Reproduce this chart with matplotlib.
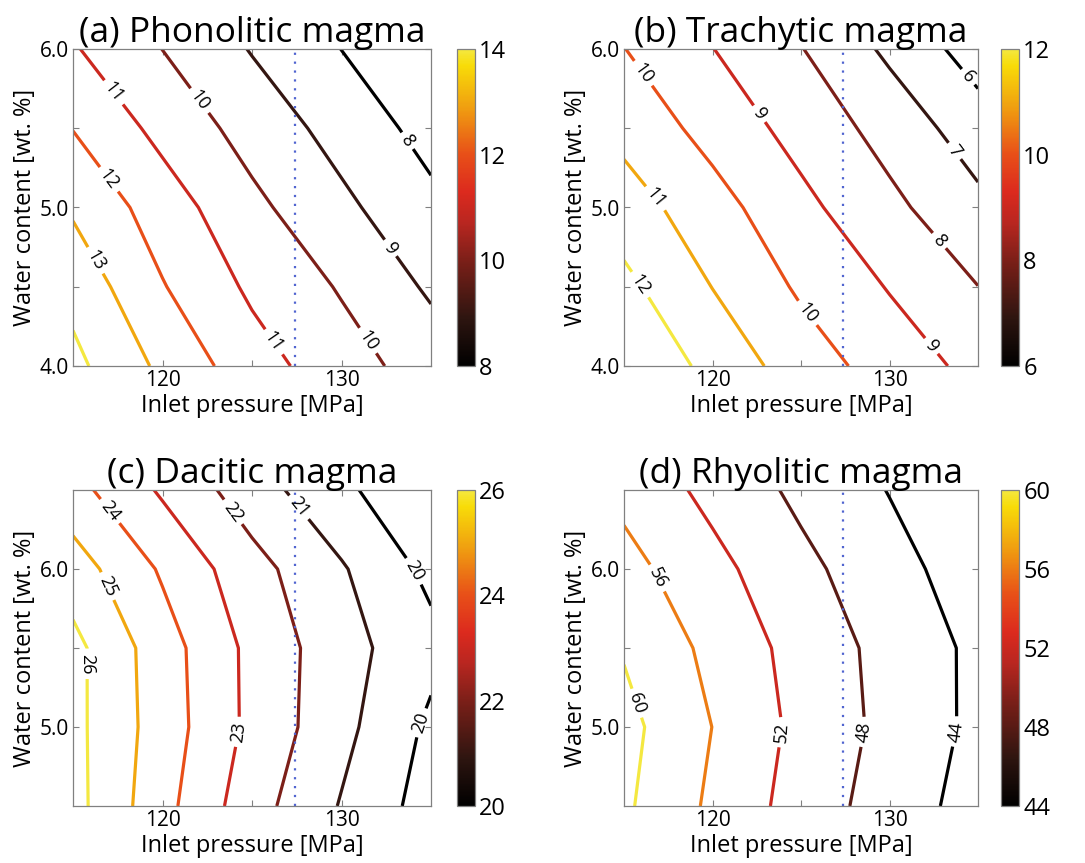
import numpy as np
import matplotlib
matplotlib.use('Agg')
import matplotlib.pyplot as plt
from matplotlib.colors import LinearSegmentedColormap, Normalize
from matplotlib.cm import ScalarMappable

plt.rcParams['font.family'] = ['Open Sans', 'DejaVu Sans']

# grid of the simulations
pressure = [115, 120, 125, 130, 135]          # inlet pressure [MPa]
water_ab = [4.0, 4.5, 5.0, 5.5, 6.0]          # water content [wt. %], panels a,b
water_cd = [4.5, 5.0, 5.5, 6.0, 6.5]          # water content [wt. %], panels c,d
ref_pressure = 127.4                          # dotted line

# rows = water content, columns = inlet pressure
phonolitic = [[14.26, 12.79, 11.43, 10.43, 9.54],
              [13.68, 12.06, 10.82, 9.91, 8.85],
              [12.86, 11.51, 10.24, 9.22, 8.24],
              [11.97, 10.70, 9.61, 8.63, 7.65],
              [11.09, 9.99, 8.94, 7.99, 7.06]]

trachytic = [[12.99, 11.69, 10.51, 9.56, 8.71],
             [12.26, 10.98, 9.85, 8.94, 8.01],
             [11.48, 10.39, 9.26, 8.24, 7.25],
             [10.69, 9.65, 8.64, 7.63, 6.47],
             [10.02, 9.02, 8.04, 6.80, 5.53]]

dacitic = [[26.34, 24.33, 22.41, 20.93, 19.56],
           [26.28, 24.52, 22.75, 21.29, 19.80],
           [26.29, 24.45, 22.74, 21.375, 20.30],
           [25.48, 23.87, 22.36, 21.10, 19.74],
           [24.34, 22.86, 21.45, 20.23, 19.06]]

rhyolitic = [[60.65, 55.26, 50.28, 46.15, 42.41],
             [61.23, 55.96, 50.92, 46.87, 43.09],
             [59.67, 54.96, 50.52, 46.68, 43.13],
             [57.37, 53.19, 49.05, 45.41, 41.94],
             [54.89, 50.88, 47.08, 43.85, 40.60]]

levels_a = [8, 9, 10, 11, 12, 13, 14]
levels_b = [6, 7, 8, 9, 10, 11, 12]
levels_c = [20, 21, 22, 23, 24, 25, 26]
levels_d = [44, 48, 52, 56, 60]

cticks_a = [8, 10, 12, 14]
cticks_b = [6, 8, 10, 12]
cticks_c = [20, 22, 24, 26]
cticks_d = [44, 48, 52, 56, 60]

titles = ['(a) Phonolitic magma', '(b) Trachytic magma',
          '(c) Dacitic magma', '(d) Rhyolitic magma']

# where the contour labels sit
lab_a = [(117.2, 5.72), (121.9, 5.66), (116.8, 5.16), (116.0, 4.65),
         (125.8, 4.12), (131.2, 4.14), (132.8, 4.75), (133.8, 5.43)]
lab_b = [(116.0, 5.84), (122.5, 5.58), (116.9, 5.07), (116.0, 4.52),
         (125.2, 4.32), (132.3, 4.12), (132.8, 4.79), (133.6, 5.35), (134.4, 5.82)]
lab_c = [(117.0, 6.36), (116.9, 5.89), (115.7, 5.40), (124.2, 4.97),
         (123.8, 6.35), (127.4, 6.37), (134.3, 6.0), (134.6, 5.02)]
lab_d = [(117.0, 5.95), (115.7, 5.15), (123.7, 4.97), (128.5, 4.97), (133.8, 4.97)]

cmap = LinearSegmentedColormap.from_list('magma_hot', [
    (0.0, '#000000'), (0.15, '#2e1510'), (0.33, '#7a1f18'), (0.45, '#b82620'),
    (0.55, '#dc2a1e'), (0.67, '#e85018'), (0.82, '#f0a010'), (0.95, '#f8dc08'),
    (1.0, '#f4e840')])

W, H = 1085, 863
fig = plt.figure(figsize=(W / 100, H / 100), dpi=100)

def rect(l, t, r, b):
    return [l / W, 1 - b / H, (r - l) / W, (b - t) / H]

panels = [
    (phonolitic, water_ab, levels_a, cticks_a, lab_a, (73, 49, 431, 366), (457, 49, 475, 366)),
    (trachytic, water_ab, levels_b, cticks_b, lab_b, (624, 49, 978, 366), (1001, 49, 1019, 366)),
    (dacitic, water_cd, levels_c, cticks_c, lab_c, (73, 490, 431, 806), (457, 490, 475, 806)),
    (rhyolitic, water_cd, levels_d, cticks_d, lab_d, (624, 490, 978, 806), (1001, 490, 1019, 806)),
]

edge = '#808080'
for i, (z, water, lev, cticks, labpos, axr, cbr) in enumerate(panels):
    ax = fig.add_axes(rect(*axr))
    norm = Normalize(vmin=lev[0], vmax=lev[-1])
    X, Y = np.meshgrid(pressure, water)
    cs = ax.contour(X, Y, np.array(z), levels=lev, cmap=cmap, norm=norm, linewidths=2.3)
    ax.clabel(cs, manual=labpos, inline=True, fmt='%d', fontsize=13,
              colors='k', inline_spacing=5)
    ax.axvline(ref_pressure, color='#5064d0', lw=1.6, linestyle=(0, (1, 3.0)))

    ax.set_xlim(pressure[0], pressure[-1])
    ax.set_ylim(water[0], water[-1])
    ax.set_xticks([120, 125, 130])
    ax.set_xticklabels(['120', '', '130'])
    if water[0] == 4.0:
        ax.set_yticks([4.0, 4.5, 5.0, 5.5, 6.0])
        ax.set_yticklabels(['4.0', '', '5.0', '', '6.0'])
    else:
        ax.set_yticks([5.0, 5.5, 6.0])
        ax.set_yticklabels(['5.0', '', '6.0'])
    ax.tick_params(direction='in', top=True, right=True, length=4, width=0.8,
                   color=edge, labelsize=15, pad=3)
    for s in ax.spines.values():
        s.set_color(edge)
        s.set_linewidth(0.9)
    ax.set_title(titles[i], fontsize=25.5, pad=5)
    ax.set_xlabel('Inlet pressure [MPa]', fontsize=17, labelpad=2)
    ax.set_ylabel('Water content [wt. %]', fontsize=17, labelpad=2)

    cax = fig.add_axes(rect(*cbr))
    cb = fig.colorbar(ScalarMappable(norm=norm, cmap=cmap), cax=cax, ticks=cticks)
    cb.outline.set_edgecolor(edge)
    cb.outline.set_linewidth(0.9)
    cax.tick_params(length=0, labelsize=17, pad=3)

fig.savefig('out.png', dpi=100)
